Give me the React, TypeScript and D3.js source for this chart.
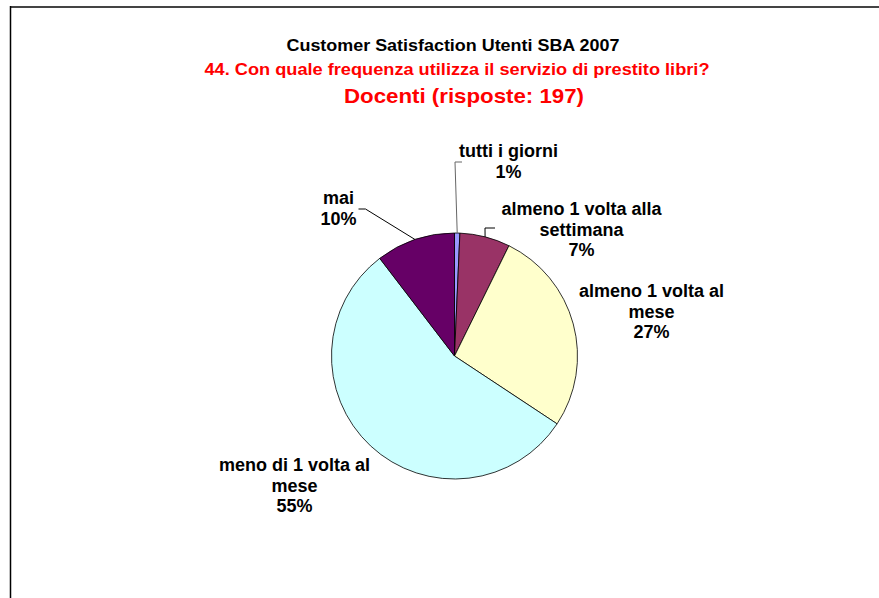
import React from "react";
import * as d3 from "d3";

const categories = [
  "tutti i giorni",
  "almeno 1 volta alla settimana",
  "almeno 1 volta al mese",
  "meno di 1 volta al mese",
  "mai",
];
const values = [0.7, 6.6, 27.0, 55.3, 10.4];
const colors = ["#9999FF", "#993366", "#FFFFCC", "#CCFFFF", "#660066"];
// label text lines (category wrapped as in the original)
const labelLines = [
  ["tutti i giorni"],
  ["almeno 1 volta alla", "settimana"],
  ["almeno 1 volta al", "mese"],
  ["meno di 1 volta al", "mese"],
  ["mai"],
];
const titleLines = [
  "Customer Satisfaction Utenti SBA 2007",
  "44. Con quale frequenza utilizza il servizio di prestito libri?",
  "Docenti (risposte: 197)",
];

// layout (relative to pie centre)
const W = 879, H = 598;
const CX = 454.5, CY = 356, R = 123;
const labelPos: [number, number][] = [
  [54, -199],
  [127, -141],
  [197, -59],
  [-160, 115],
  [-116, -152],
];
// leader lines: elbow & end points relative to centre (null = no leader)
const leaders: ([number, number][] | null)[] = [
  [[0.5, -194], [7.5, -194]],
  [[30.5, -128], [40.5, -128]],
  null,
  null,
  [[-89, -147], [-96, -147]],
];

export default function App() {
  const pie = d3.pie<number>().sort(null).value((d) => d)
    .startAngle(0).endAngle(2 * Math.PI);
  const arcs = pie(values);
  const arc = d3.arc<d3.PieArcDatum<number>>().innerRadius(0).outerRadius(R);
  const total = d3.sum(values);
  const fmt = (v: number) => Math.round((v / total) * 100) + "%";
  const font = "'Liberation Sans', Arial, sans-serif";

  return (
    <svg width={W} height={H} style={{ position: "absolute", left: 0, top: 0 }}>
      <rect x={0} y={0} width={W} height={H} fill="#fff" />
      <line x1={10} y1={7} x2={W} y2={7} stroke="#444" strokeWidth={2} />
      <line x1={10.5} y1={6} x2={10.5} y2={H} stroke="#000" strokeWidth={1.5} />
      <g fontFamily={font} fontWeight="bold" textAnchor="middle">
        <text x={453} y={51} fontSize={16} fill="#000" textLength={333} lengthAdjust="spacingAndGlyphs">{titleLines[0]}</text>
        <text x={457} y={75} fontSize={16} fill="#FF0000" textLength={505} lengthAdjust="spacingAndGlyphs">{titleLines[1]}</text>
        <text x={464} y={103} fontSize={21} fill="#FF0000" textLength={240} lengthAdjust="spacingAndGlyphs">{titleLines[2]}</text>
      </g>
      <g transform={`translate(${CX},${CY})`}>
        {arcs.map((a, i) => (
          <path key={i} d={arc(a) || ""} fill={colors[i]} stroke="#000" strokeWidth={0.8} />
        ))}
        {arcs.map((a, i) => {
          const L = leaders[i];
          if (!L) return null;
          const mid = (a.startAngle + a.endAngle) / 2;
          const p0: [number, number] = [Math.sin(mid) * R, -Math.cos(mid) * R];
          const pts = [p0, ...L];
          return (
            <polyline key={"l" + i} points={pts.map((p) => p.join(",")).join(" ")}
              fill="none" stroke={i === 0 ? "#666" : "#000"} strokeWidth={1} />
          );
        })}
        <g fontFamily={font} fontWeight="bold" fontSize={18} textAnchor="middle" fill="#000">
          {arcs.map((a, i) => {
            const [lx, ly] = labelPos[i];
            const lines = [...labelLines[i], fmt(values[i])];
            return (
              <text key={"t" + i} x={lx} y={ly}>
                {lines.map((t, j) => (
                  <tspan key={j} x={lx} dy={j === 0 ? 0 : 20.7}>{t}</tspan>
                ))}
              </text>
            );
          })}
        </g>
      </g>
    </svg>
  );
}
